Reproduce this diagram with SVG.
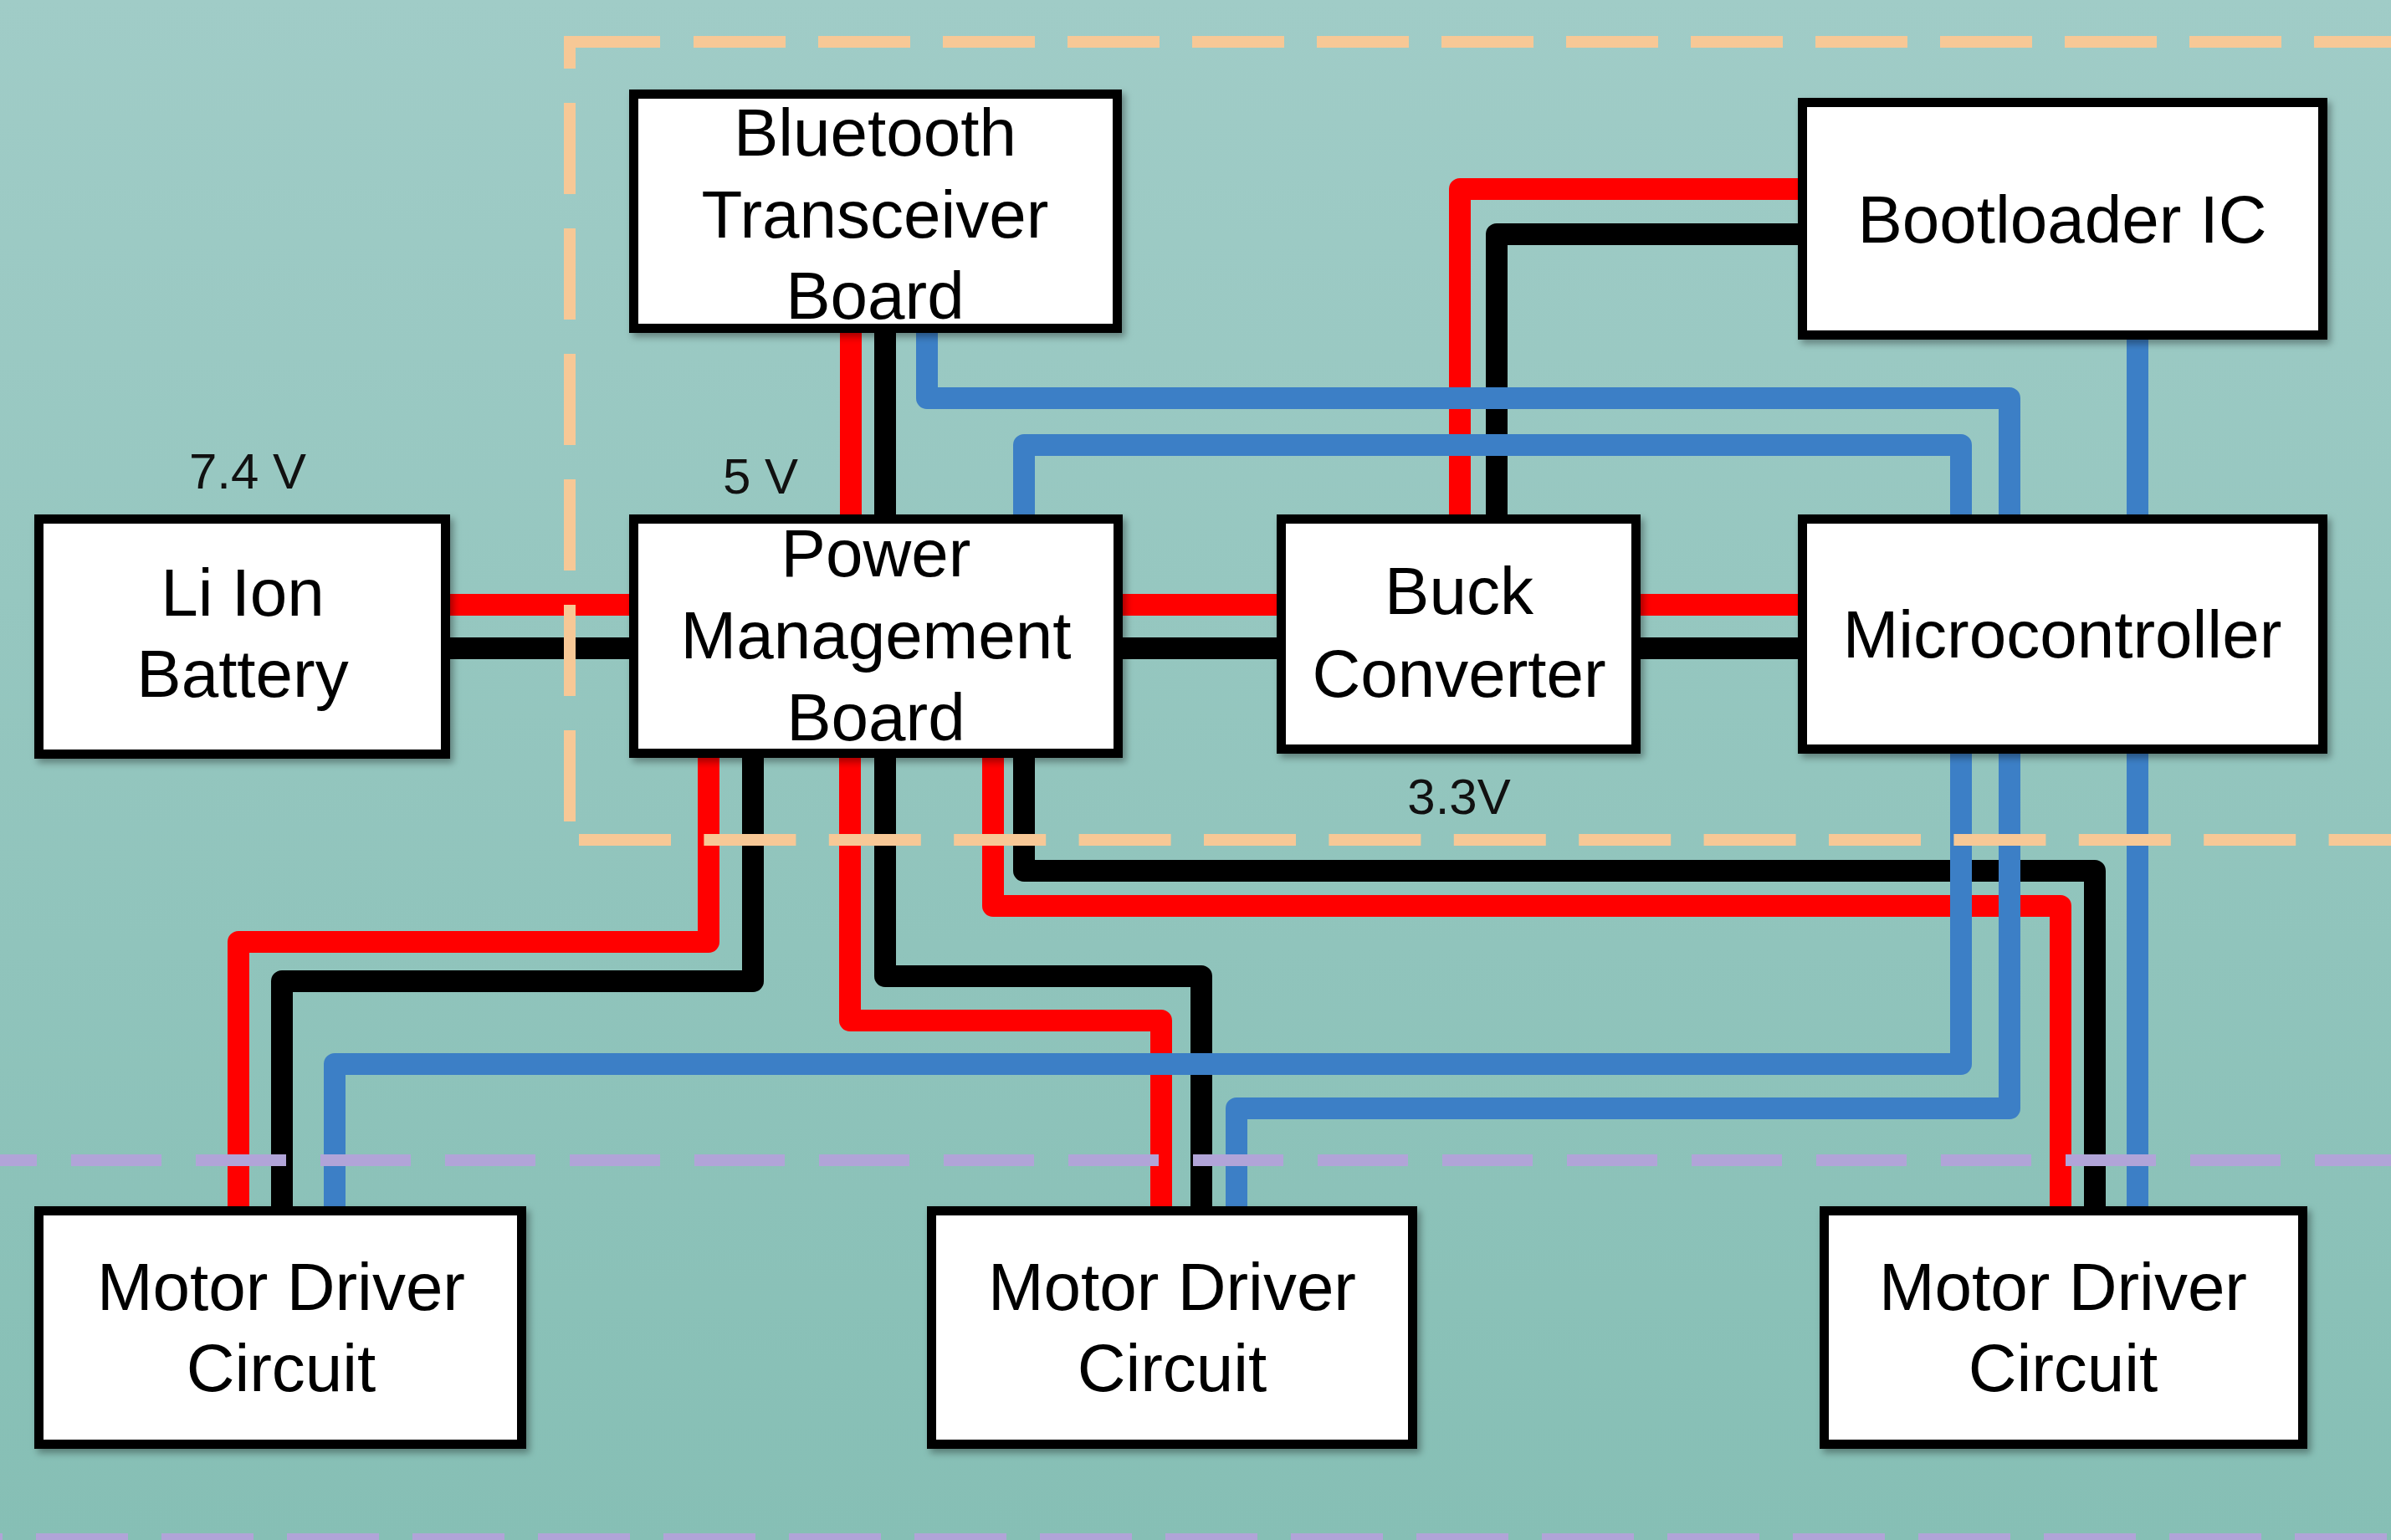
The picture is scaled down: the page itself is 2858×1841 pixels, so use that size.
<svg xmlns="http://www.w3.org/2000/svg" width="2858" height="1841" viewBox="0 0 2858 1841">
  <defs>
    <linearGradient id="bg" x1="0" y1="0" x2="0" y2="1">
      <stop offset="0" stop-color="#A0CCC7"/>
      <stop offset="1" stop-color="#86BFB5"/>
    </linearGradient>
    <filter id="sh" x="-10%" y="-10%" width="130%" height="130%">
      <feDropShadow dx="4" dy="5" stdDeviation="4" flood-color="#000" flood-opacity="0.35"/>
    </filter>
    <style>
      .box { fill: #FFFFFF; stroke: #000000; stroke-width: 11; filter: url(#sh); }
      .lbl { font-family: "Liberation Sans", Arial, sans-serif; font-size: 80px; fill: #000; text-anchor: middle; }
      .sm { font-family: "Liberation Sans", Arial, sans-serif; font-size: 60px; fill: #111; text-anchor: middle; }
      .w { fill: none; stroke-width: 26; stroke-linejoin: round; stroke-linecap: butt; }
      .r { stroke: #FF0000; }
      .k { stroke: #000000; }
      .b { stroke: #3C7FC6; }
      .od { fill: none; stroke: #F7C896; stroke-width: 14; }
      .pd { fill: none; stroke: #B1A4D8; stroke-width: 14; }
    </style>
  </defs>

  <rect x="0" y="0" width="2858" height="1841" fill="url(#bg)"/>

  <g id="connectors">
    <path class="w r" d="M538,723 H752"/>
    <path class="w k" d="M538,775 H752"/>
    <path class="w r" d="M1342,723 H1526"/>
    <path class="w k" d="M1342,775 H1526"/>
    <path class="w r" d="M1961,723 H2149"/>
    <path class="w k" d="M1961,775 H2149"/>
    <path class="w r" d="M1017,398 V615"/>
    <path class="w k" d="M1058,398 V615"/>
    <path class="w r" d="M2149,226 H1745 V615"/>
    <path class="w k" d="M2149,280 H1789 V615"/>
    <path class="w b" d="M1108,398 V476 H2402 V615"/>
    <path class="w b" d="M1224,615 V532 H2344 V615"/>
    <path class="w b" d="M2555,406 V615"/>
    <path class="w r" d="M847,906 V1126 H285 V1442"/>
    <path class="w k" d="M900,906 V1173 H337 V1442"/>
    <path class="w r" d="M1016,906 V1220 H1388 V1442"/>
    <path class="w k" d="M1058,906 V1167 H1436 V1442"/>
    <path class="w r" d="M1187,906 V1083 H2463 V1442"/>
    <path class="w k" d="M1224,906 V1041 H2504 V1442"/>
    <path class="w b" d="M2344,901 V1272 H400 V1442"/>
    <path class="w b" d="M2402,901 V1325 H1478 V1442"/>
    <path class="w b" d="M2555,901 V1442"/>
  </g>

  <g id="boundaries">
    <path class="od" d="M681,82 V50 H789"/>
    <path class="od" d="M829,50 H2858" stroke-dasharray="110 39"/>
    <path class="od" d="M681,123 V982" stroke-dasharray="109 41"/>
    <path class="od" d="M692,1004 H2858" stroke-dasharray="110 39.4"/>
    <path class="pd" d="M0,1387 H2858" stroke-dasharray="108 41" stroke-dashoffset="64"/>
    <path class="pd" d="M0,1840 H2858" stroke-dasharray="110 40" stroke-dashoffset="107"/>
  </g>

  <g id="node-bluetooth">
    <rect class="box" x="757.5" y="112.5" width="578" height="280"/>
    <text class="lbl" x="1046" y="186">Bluetooth</text>
    <text class="lbl" x="1046" y="284">Transceiver</text>
    <text class="lbl" x="1046" y="381">Board</text>
  </g>

  <g id="node-battery">
    <rect class="box" x="46.5" y="620.5" width="486" height="281"/>
    <text class="lbl" x="290" y="736">Li Ion</text>
    <text class="lbl" x="290" y="833">Battery</text>
  </g>

  <g id="node-power">
    <rect class="box" x="757.5" y="620.5" width="579" height="280"/>
    <text class="lbl" x="1047" y="689">Power</text>
    <text class="lbl" x="1047" y="787">Management</text>
    <text class="lbl" x="1047" y="885">Board</text>
  </g>

  <g id="node-buck">
    <rect class="box" x="1531.5" y="620.5" width="424" height="275"/>
    <text class="lbl" x="1744" y="734">Buck</text>
    <text class="lbl" x="1744" y="833">Converter</text>
  </g>

  <g id="node-bootloader">
    <rect class="box" x="2154.5" y="122.5" width="622" height="278"/>
    <text class="lbl" x="2465" y="290">Bootloader IC</text>
  </g>

  <g id="node-micro">
    <rect class="box" x="2154.5" y="620.5" width="622" height="275"/>
    <text class="lbl" x="2465" y="786">Microcontroller</text>
  </g>

  <g id="node-motor1">
    <rect class="box" x="46.5" y="1447.5" width="577" height="279"/>
    <text class="lbl" x="336" y="1566">Motor Driver</text>
    <text class="lbl" x="336" y="1663">Circuit</text>
  </g>

  <g id="node-motor2">
    <rect class="box" x="1113.5" y="1447.5" width="575" height="279"/>
    <text class="lbl" x="1401" y="1566">Motor Driver</text>
    <text class="lbl" x="1401" y="1663">Circuit</text>
  </g>

  <g id="node-motor3">
    <rect class="box" x="2180.5" y="1447.5" width="572" height="279"/>
    <text class="lbl" x="2466" y="1566">Motor Driver</text>
    <text class="lbl" x="2466" y="1663">Circuit</text>
  </g>

  <g id="labels">
    <text class="sm" x="296" y="584">7.4 V</text>
    <text class="sm" x="909" y="590">5 V</text>
    <text class="sm" x="1744" y="973">3.3V</text>
  </g>
</svg>
